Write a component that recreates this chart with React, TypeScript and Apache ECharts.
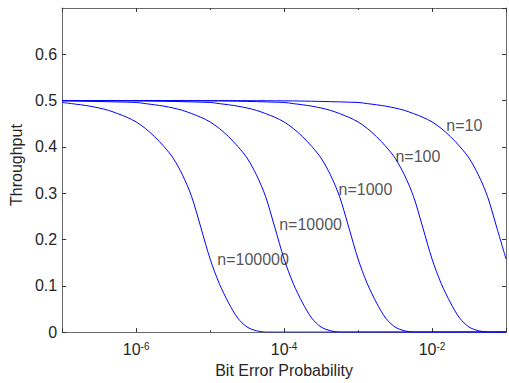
import React, { useEffect, useRef } from "react";
import * as echarts from "echarts";

const FONT = "'Liberation Sans', Arial, Helvetica, sans-serif";
const TEXT = "#262626";
const AXIS = "#6a6a6a";
const BLUE = "#0000ff";

// x: bit error probability, y: throughput
const curveN10: [number, number][] = [
  [1e-7, 0.5], [1e-5, 0.4999], [1e-4, 0.4995],
  [1e-3, 0.496], [1.33e-3, 0.4935], [1.78e-3, 0.491], [2.37e-3, 0.488], [3.16e-3, 0.484],
  [4.22e-3, 0.479], [5.62e-3, 0.472], [7.5e-3, 0.464], [1e-2, 0.454], [1.33e-2, 0.44],
  [1.78e-2, 0.422], [2.37e-2, 0.401], [3.16e-2, 0.376], [4.22e-2, 0.34], [5.62e-2, 0.293],
  [7.5e-2, 0.226], [1e-1, 0.158],
];
const curveN100: [number, number][] = [
  [1e-7, 0.5], [1e-5, 0.4995],
  [1e-4, 0.496], [1.33e-4, 0.4935], [1.78e-4, 0.491], [2.37e-4, 0.488], [3.16e-4, 0.484],
  [4.22e-4, 0.479], [5.62e-4, 0.472], [7.5e-4, 0.464], [1e-3, 0.454], [1.33e-3, 0.44],
  [1.78e-3, 0.422], [2.37e-3, 0.401], [3.16e-3, 0.376], [4.22e-3, 0.34], [5.62e-3, 0.293],
  [7.5e-3, 0.226], [1e-2, 0.158], [1.33e-2, 0.105], [1.78e-2, 0.063], [2.37e-2, 0.03],
  [3.16e-2, 0.011], [4.22e-2, 0.003], [5.62e-2, 0], [1e-1, 0],
];
const curveN1000: [number, number][] = [
  [1e-7, 0.5], [1e-6, 0.4995],
  [1e-5, 0.496], [1.33e-5, 0.4935], [1.78e-5, 0.491], [2.37e-5, 0.488], [3.16e-5, 0.484],
  [4.22e-5, 0.479], [5.62e-5, 0.472], [7.5e-5, 0.464], [1e-4, 0.454], [1.33e-4, 0.44],
  [1.78e-4, 0.422], [2.37e-4, 0.401], [3.16e-4, 0.376], [4.22e-4, 0.34], [5.62e-4, 0.293],
  [7.5e-4, 0.226], [1e-3, 0.158], [1.33e-3, 0.105], [1.78e-3, 0.063], [2.37e-3, 0.03],
  [3.16e-3, 0.011], [4.22e-3, 0.003], [5.62e-3, 0], [1e-1, 0],
];
const curveN10000: [number, number][] = [
  [1e-7, 0.4995],
  [1e-6, 0.496], [1.33e-6, 0.4935], [1.78e-6, 0.491], [2.37e-6, 0.488], [3.16e-6, 0.484],
  [4.22e-6, 0.479], [5.62e-6, 0.472], [7.5e-6, 0.464], [1e-5, 0.454], [1.33e-5, 0.44],
  [1.78e-5, 0.422], [2.37e-5, 0.401], [3.16e-5, 0.376], [4.22e-5, 0.34], [5.62e-5, 0.293],
  [7.5e-5, 0.226], [1e-4, 0.158], [1.33e-4, 0.105], [1.78e-4, 0.063], [2.37e-4, 0.03],
  [3.16e-4, 0.011], [4.22e-4, 0.003], [5.62e-4, 0], [1e-1, 0],
];
const curveN100000: [number, number][] = [
  [1e-7, 0.496], [1.33e-7, 0.4935], [1.78e-7, 0.491], [2.37e-7, 0.488], [3.16e-7, 0.484],
  [4.22e-7, 0.479], [5.62e-7, 0.472], [7.5e-7, 0.464], [1e-6, 0.454], [1.33e-6, 0.44],
  [1.78e-6, 0.422], [2.37e-6, 0.401], [3.16e-6, 0.376], [4.22e-6, 0.34], [5.62e-6, 0.293],
  [7.5e-6, 0.226], [1e-5, 0.158], [1.33e-5, 0.105], [1.78e-5, 0.063], [2.37e-5, 0.03],
  [3.16e-5, 0.011], [4.22e-5, 0.003], [5.62e-5, 0], [1e-1, 0],
];

const seriesNames = ["n=10", "n=100", "n=1000", "n=10000", "n=100000"];
const curves = [curveN10, curveN100, curveN1000, curveN10000, curveN100000];

// curve labels: anchor (left edge of text) in data coordinates
const labelX = [1.56e-2, 3.2e-3, 5.45e-4, 8.6e-5, 1.25e-5];
const labelY = [0.446, 0.38, 0.307, 0.233, 0.156];

const xMin = 1e-7;
const xMax = 1e-1;
const yMin = 0;
const yMax = 0.7;
const yStep = 0.1;

export default function App() {
  const ref = useRef<HTMLDivElement>(null);
  useEffect(() => {
    if (!ref.current) return;
    const chart = echarts.init(ref.current, undefined, { renderer: "svg" });

    const baseLog = {
      type: "log" as const,
      min: xMin,
      max: xMax,
      gridIndex: 0,
      splitLine: { show: false },
      axisPointer: { show: false },
    };

    const option: any = {
      animation: false,
      backgroundColor: "#ffffff",
      textStyle: { fontFamily: FONT },
      grid: { left: 57, top: 8, width: 455, height: 328, containLabel: false },
      xAxis: [
        {
          ...baseLog,
          logBase: 10,
          position: "bottom",
          axisLine: { show: true, lineStyle: { color: AXIS, width: 1 } },
          axisTick: { show: true, inside: true, length: 2, lineStyle: { color: "#444" } },
          axisLabel: {
            show: true,
            margin: 9,
            color: TEXT,
            fontFamily: FONT,
            formatter: (v: number) => {
              const e = Math.round(Math.log10(v));
              if (e % 2 === 0 && e > -7 && e < -1) return `{b|10}{s|${e}}`;
              return "";
            },
            rich: {
              b: { fontSize: 16, fontFamily: FONT, color: TEXT, verticalAlign: "bottom" },
              s: { fontSize: 10, fontFamily: FONT, color: TEXT, verticalAlign: "bottom", padding: [0, 0, 6, 0] },
            },
          },
          name: "Bit Error Probability",
          nameLocation: "middle",
          nameGap: 28,
          nameTextStyle: { fontSize: 16, color: TEXT, fontFamily: FONT },
        },
        {
          ...baseLog,
          logBase: 100,
          position: "bottom",
          axisLine: { show: false },
          axisTick: { show: true, inside: true, length: 4, lineStyle: { color: "#333" } },
          axisLabel: { show: false },
        },
        {
          ...baseLog,
          logBase: 10,
          position: "top",
          axisLine: { show: true, lineStyle: { color: AXIS, width: 1 } },
          axisTick: { show: true, inside: true, length: 2, lineStyle: { color: "#444" } },
          axisLabel: { show: false },
        },
        {
          ...baseLog,
          logBase: 100,
          position: "top",
          axisLine: { show: false },
          axisTick: { show: true, inside: true, length: 4, lineStyle: { color: "#333" } },
          axisLabel: { show: false },
        },
      ],
      yAxis: [
        {
          type: "value",
          min: yMin,
          max: yMax,
          interval: yStep,
          position: "left",
          splitLine: { show: false },
          axisLine: { show: true, lineStyle: { color: AXIS, width: 1 } },
          axisTick: { show: true, inside: true, length: 4, lineStyle: { color: "#333" } },
          axisLabel: {
            show: true,
            showMaxLabel: false,
            margin: 5,
            fontSize: 16,
            color: TEXT,
            fontFamily: FONT,
            formatter: (v: number) => (v === 0 ? "0" : v.toFixed(1)),
          },
          name: "Throughput",
          nameLocation: "middle",
          nameGap: 33,
          nameRotate: 90,
          nameTextStyle: { fontSize: 16, color: TEXT, fontFamily: FONT, padding: [0, 0, 0, 10] },
        },
        {
          type: "value",
          min: yMin,
          max: yMax,
          interval: yStep,
          position: "right",
          splitLine: { show: false },
          axisLine: { show: true, lineStyle: { color: AXIS, width: 1 } },
          axisTick: { show: true, inside: true, length: 4, lineStyle: { color: "#333" } },
          axisLabel: { show: false },
        },
      ],
      series: [
        ...curves.map((c, i) => ({
          type: "line",
          name: seriesNames[i],
          xAxisIndex: 0,
          yAxisIndex: 0,
          data: c,
          showSymbol: false,
          symbol: "none",
          smooth: 0.3,
          lineStyle: { color: BLUE, width: 1 },
          silent: true,
          z: 3,
        })),
        {
          type: "scatter",
          xAxisIndex: 0,
          yAxisIndex: 0,
          symbolSize: 0,
          silent: true,
          z: 5,
          data: seriesNames.map((n, i) => ({ name: n, value: [labelX[i], labelY[i]] })),
          label: {
            show: true,
            position: "right",
            distance: 0,
            formatter: (p: any) => p.name,
            fontSize: 16,
            color: TEXT,
            fontFamily: FONT,
          },
        },
      ],
    };
    chart.setOption(option);
    return () => chart.dispose();
  }, []);

  return (
    <div
      ref={ref}
      style={{ position: "fixed", left: 0, top: 0, width: 509, height: 383, background: "#fff" }}
    />
  );
}
